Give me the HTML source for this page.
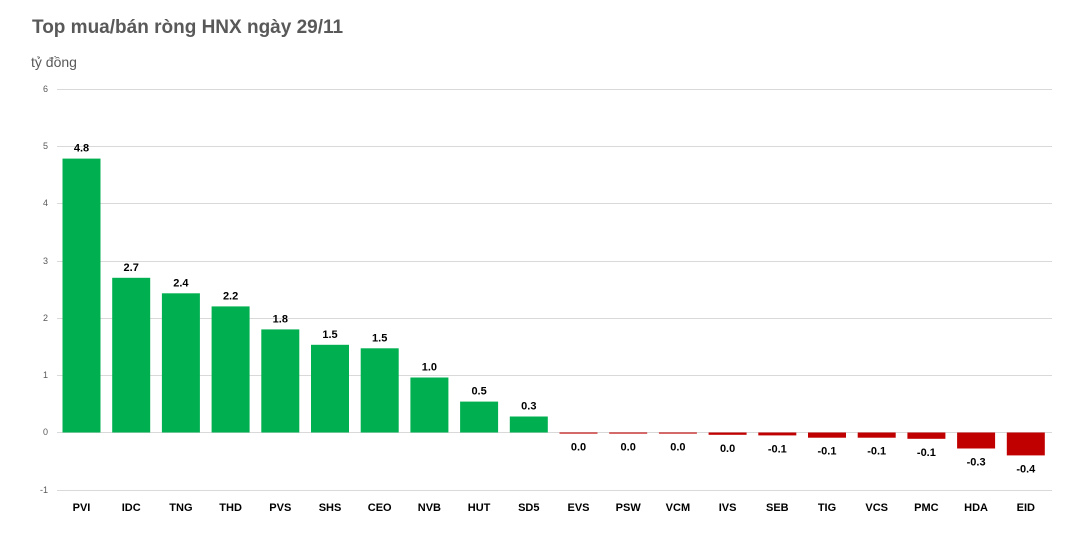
<!DOCTYPE html><html><head><style>body{margin:0;background:#fff}svg{display:block}</style></head><body>
<svg width="1075" height="537" xmlns="http://www.w3.org/2000/svg" font-family="Liberation Sans, sans-serif">
<text x="32" y="33" font-size="19" font-weight="bold" fill="#595959">Top mua/bán ròng HNX ngày 29/11</text>
<text x="31" y="67" font-size="14" fill="#595959">tỷ đồng</text>
<g stroke="#d9d9d9" stroke-width="1">
<line x1="57" x2="1052" y1="89.5" y2="89.5"/><line x1="57" x2="1052" y1="146.5" y2="146.5"/><line x1="57" x2="1052" y1="203.5" y2="203.5"/><line x1="57" x2="1052" y1="261.5" y2="261.5"/><line x1="57" x2="1052" y1="318.5" y2="318.5"/><line x1="57" x2="1052" y1="375.5" y2="375.5"/><line x1="57" x2="1052" y1="432.5" y2="432.5"/><line x1="57" x2="1052" y1="490.5" y2="490.5"/>
</g>
<g font-size="9" fill="#595959" text-anchor="end">
<text x="48" y="92">6</text><text x="48" y="149">5</text><text x="48" y="206">4</text><text x="48" y="264">3</text><text x="48" y="321">2</text><text x="48" y="378">1</text><text x="48" y="435">0</text><text x="48" y="493">-1</text>
</g>
<g fill="#00b050">
<rect x="62.5" y="158.6" width="38" height="273.9"/>
<rect x="112.2" y="277.8" width="38" height="154.7"/>
<rect x="161.9" y="293.3" width="38" height="139.2"/>
<rect x="211.6" y="306.4" width="38" height="126.1"/>
<rect x="261.3" y="329.4" width="38" height="103.1"/>
<rect x="311" y="344.8" width="38" height="87.7"/>
<rect x="360.7" y="348.3" width="38" height="84.2"/>
<rect x="410.4" y="377.5" width="38" height="55"/>
<rect x="460.1" y="401.6" width="38" height="30.9"/>
<rect x="509.8" y="416.5" width="38" height="16"/>
</g>
<g fill="#c00000">
<rect x="559.5" y="432.5" width="38" height="1.1"/>
<rect x="609.2" y="432.5" width="38" height="1.1"/>
<rect x="658.9" y="432.5" width="38" height="1.1"/>
<rect x="708.6" y="432.5" width="38" height="2.3"/>
<rect x="758.3" y="432.5" width="38" height="2.9"/>
<rect x="808" y="432.5" width="38" height="5.2"/>
<rect x="857.7" y="432.5" width="38" height="5.2"/>
<rect x="907.4" y="432.5" width="38" height="6.3"/>
<rect x="957.1" y="432.5" width="38" height="16"/>
<rect x="1006.8" y="432.5" width="38" height="22.9"/>
</g>
<g font-size="11" font-weight="bold" fill="#000" text-anchor="middle">
<text x="81.5" y="151.6">4.8</text>
<text x="131.2" y="270.8">2.7</text>
<text x="180.9" y="286.3">2.4</text>
<text x="230.6" y="299.4">2.2</text>
<text x="280.3" y="322.4">1.8</text>
<text x="330" y="337.8">1.5</text>
<text x="379.7" y="341.3">1.5</text>
<text x="429.4" y="370.5">1.0</text>
<text x="479.1" y="394.6">0.5</text>
<text x="528.8" y="409.5">0.3</text>
<text x="578.5" y="450.6">0.0</text>
<text x="628.2" y="450.6">0.0</text>
<text x="677.9" y="450.6">0.0</text>
<text x="727.6" y="451.8">0.0</text>
<text x="777.3" y="452.4">-0.1</text>
<text x="827" y="454.7">-0.1</text>
<text x="876.7" y="454.7">-0.1</text>
<text x="926.4" y="455.8">-0.1</text>
<text x="976.1" y="465.5">-0.3</text>
<text x="1025.8" y="472.4">-0.4</text>
</g>
<g font-size="11" font-weight="bold" fill="#000" text-anchor="middle">
<text x="81.5" y="511">PVI</text><text x="131.2" y="511">IDC</text><text x="180.9" y="511">TNG</text><text x="230.6" y="511">THD</text><text x="280.3" y="511">PVS</text><text x="330" y="511">SHS</text><text x="379.7" y="511">CEO</text><text x="429.4" y="511">NVB</text><text x="479.1" y="511">HUT</text><text x="528.8" y="511">SD5</text><text x="578.5" y="511">EVS</text><text x="628.2" y="511">PSW</text><text x="677.9" y="511">VCM</text><text x="727.6" y="511">IVS</text><text x="777.3" y="511">SEB</text><text x="827" y="511">TIG</text><text x="876.7" y="511">VCS</text><text x="926.4" y="511">PMC</text><text x="976.1" y="511">HDA</text><text x="1025.8" y="511">EID</text>
</g>
</svg></body></html>
